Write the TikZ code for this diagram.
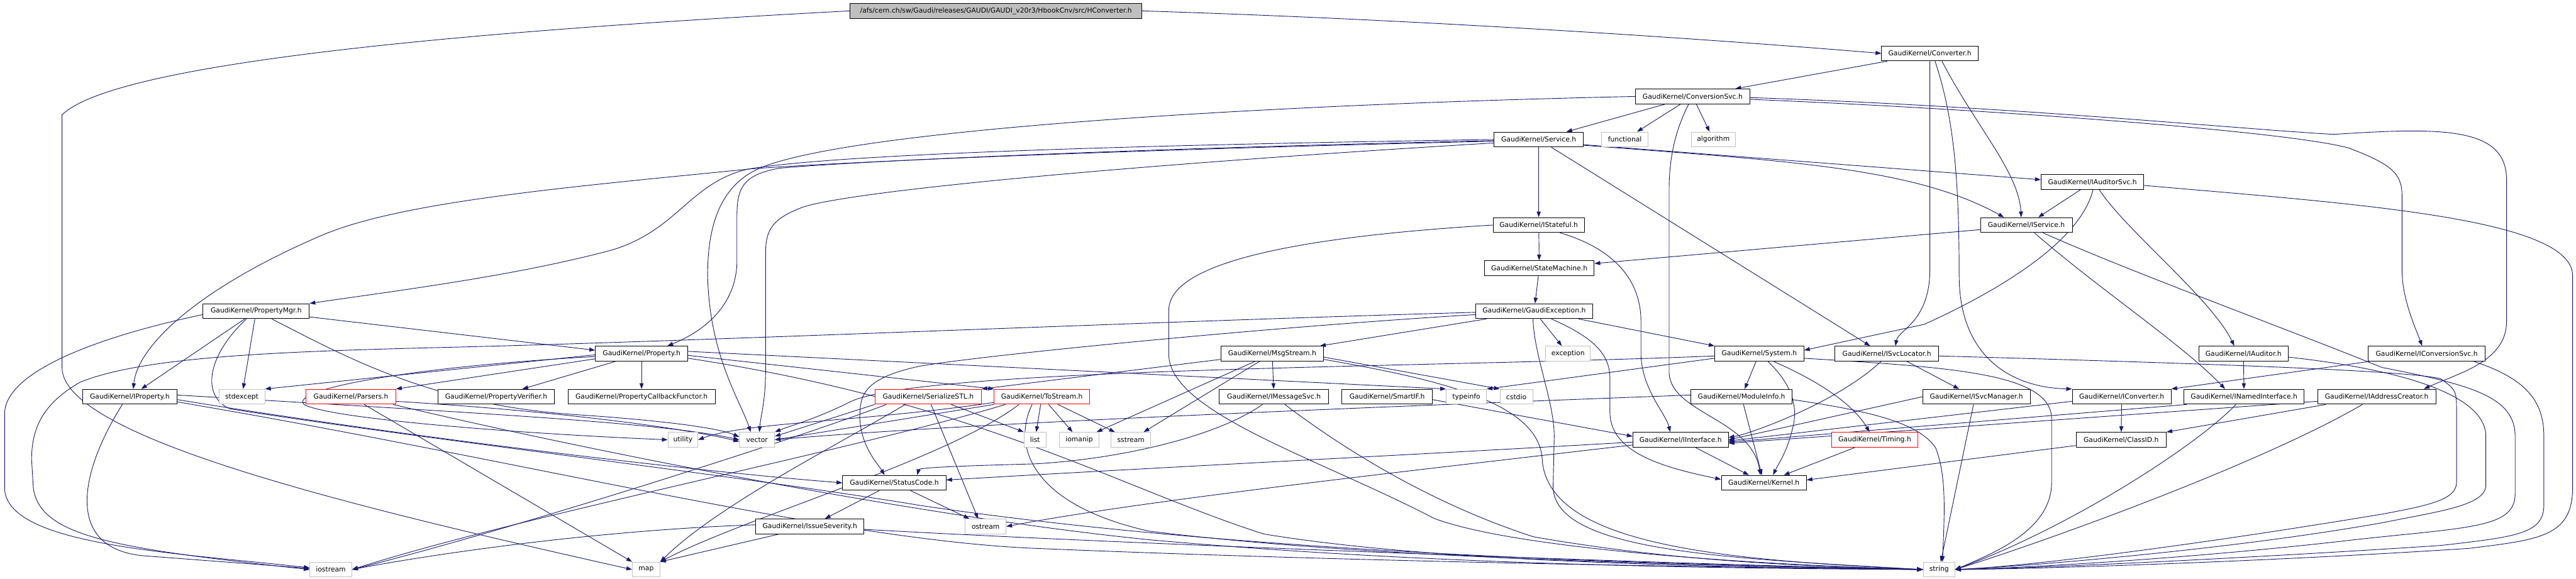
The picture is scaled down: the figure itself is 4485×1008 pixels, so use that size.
\documentclass[tikz,border=0pt]{standalone}
\usepackage{fontspec}
\newfontfamily\gk{DejaVu Sans}
\usetikzlibrary{arrows.meta,calc}
\definecolor{eb}{HTML}{191970}
\definecolor{rg}{HTML}{BFBFBF}
\pgfdeclarelayer{bg}
\pgfsetlayers{bg,main}
\begin{document}
\begin{tikzpicture}[x=1pt,y=-1pt,
  nd/.style={draw=black, line width=1pt, fill=white, minimum height=26pt, inner xsep=0pt, inner ysep=0pt, font={\gk\fontsize{11.8pt}{14pt}\selectfont}, text=black},
  sysh/.style={nd, draw=rg},
  trunc/.style={nd, draw=red},
  e/.style={draw=eb, line width=1pt, -{Triangle[length=10pt,width=7pt]}}]
\useasboundingbox (0,0) rectangle (4485,1008);
% nodes
\node[nd, fill=rg, minimum width=508pt] (root) at (1734,19) {/afs/cern.ch/sw/Gaudi/releases/GAUDI/GAUDI\_v20r3/HbookCnv/src/HConverter.h};
\node[nd, minimum width=168pt] (conv) at (3360,93) {GaudiKernel/Converter.h};
\node[nd, minimum width=199pt] (convsvc) at (2947,168) {GaudiKernel/ConversionSvc.h};
\node[nd, minimum width=155pt] (svc) at (2679,243) {GaudiKernel/Service.h};
\node[sysh, minimum width=81pt] (func) at (2829,243) {functional};
\node[sysh, minimum width=77pt] (algo) at (2983,243) {algorithm};
\node[nd, minimum width=179pt] (iaudsvc) at (3643,317) {GaudiKernel/IAuditorSvc.h};
\node[nd, minimum width=159pt] (istate) at (2679,392) {GaudiKernel/IStateful.h};
\node[nd, minimum width=160pt] (isvc) at (3528,392) {GaudiKernel/IService.h};
\node[nd, minimum width=191pt] (sm) at (2680,467) {GaudiKernel/StateMachine.h};
\node[nd, minimum width=185pt] (pmgr) at (446,542) {GaudiKernel/PropertyMgr.h};
\node[nd, minimum width=204pt] (gexc) at (2671,542) {GaudiKernel/GaudiException.h};
\node[nd, minimum width=161pt] (prop) at (1117,616) {GaudiKernel/Property.h};
\node[nd, minimum width=179pt] (msg) at (2215,616) {GaudiKernel/MsgStream.h};
\node[sysh, minimum width=78pt] (exc) at (2730,616) {exception};
\node[nd, minimum width=155pt] (sys) at (3063,616) {GaudiKernel/System.h};
\node[nd, minimum width=181pt] (isl) at (3285,616) {GaudiKernel/ISvcLocator.h};
\node[nd, minimum width=155pt] (iaud) at (3906,616) {GaudiKernel/IAuditor.h};
\node[nd, minimum width=203pt] (icsvc) at (4225,616) {GaudiKernel/IConversionSvc.h};
\node[nd, minimum width=164pt] (iprop) at (226,691) {GaudiKernel/IProperty.h};
\node[sysh, minimum width=80pt] (stdexc) at (421,691) {stdexcept};
\node[trunc, minimum width=156pt] (pars) at (611,691) {GaudiKernel/Parsers.h};
\node[nd, minimum width=202pt] (pver) at (864,691) {GaudiKernel/PropertyVerifier.h};
\node[nd, minimum width=256pt] (pcb) at (1117,691) {GaudiKernel/PropertyCallbackFunctor.h};
\node[trunc, minimum width=185pt] (ser) at (1616,691) {GaudiKernel/SerializeSTL.h};
\node[trunc, minimum width=166pt] (tos) at (1814,691) {GaudiKernel/ToStream.h};
\node[nd, minimum width=191pt] (imsg) at (2218,691) {GaudiKernel/IMessageSvc.h};
\node[nd, minimum width=157pt] (smart) at (2415,691) {GaudiKernel/SmartIF.h};
\node[sysh, minimum width=70pt] (tinfo) at (2553,691) {typeinfo};
\node[sysh, minimum width=57pt] (cstdio) at (2640,691) {cstdio};
\node[nd, minimum width=176pt] (modinfo) at (3032,691) {GaudiKernel/ModuleInfo.h};
\node[nd, minimum width=187pt] (isvm) at (3441,691) {GaudiKernel/ISvcManager.h};
\node[nd, minimum width=172pt] (iconv) at (3694,691) {GaudiKernel/IConverter.h};
\node[nd, minimum width=209pt] (inamed) at (3907,691) {GaudiKernel/INamedInterface.h};
\node[nd, minimum width=206pt] (iaddr) at (4138,691) {GaudiKernel/IAddressCreator.h};
\node[sysh, minimum width=52pt] (util) at (1189,766) {utility};
\node[sysh, minimum width=61pt] (vec) at (1318,766) {vector};
\node[sysh, minimum width=38pt] (list) at (1802,766) {list};
\node[sysh, minimum width=69pt] (iomanip) at (1879,766) {iomanip};
\node[sysh, minimum width=69pt] (sstream) at (1969,766) {sstream};
\node[nd, minimum width=166pt] (iint) at (2926,766) {GaudiKernel/IInterface.h};
\node[trunc, minimum width=150pt] (timing) at (3264,766) {GaudiKernel/Timing.h};
\node[nd, minimum width=157pt] (clid) at (3693,766) {GaudiKernel/ClassID.h};
\node[nd, minimum width=180pt] (sc) at (1557,841) {GaudiKernel/StatusCode.h};
\node[nd, minimum width=148pt] (kernel) at (3071,841) {GaudiKernel/Kernel.h};
\node[nd, minimum width=188pt] (isev) at (1410,917) {GaudiKernel/IssueSeverity.h};
\node[sysh, minimum width=71pt] (ostream) at (1716,917) {ostream};
\node[sysh, minimum width=73pt] (iostream) at (576,992) {iostream};
\node[sysh, minimum width=48pt] (map) at (1125,992) {map};
\node[sysh, minimum width=55pt] (string) at (3376,992) {string};
\begin{pgfonlayer}{bg}
\fill[white] (0,0) rectangle (4485,1008);
\draw[e] (root.east) .. controls (2500,35) and (3000,70) .. (conv.west);
\draw[e] (root.west) .. controls (800,55) and (200,110) .. (108,200) -- (108,640) .. controls (108,760) and (600,880) .. (map.west);
\draw[e] (conv) -- (convsvc);
\draw[e] ($(conv.south)+(21,0)$) .. controls (3440,220) and (3515,300) .. ($(isvc.north)+(-9,0)$);
\draw[e] (conv.south) -- (3360,470) .. controls (3360,560) and (3305,575) .. ($(isl.north)+(15,0)$);
\draw[e] ($(conv.south)+(9,0)$) .. controls (3400,200) and (3411,300) .. (3411,480) .. controls (3411,620) and (3500,675) .. (iconv.north west);
\draw[e] (convsvc) -- (svc);
\draw[e] (convsvc) -- (func);
\draw[e] (convsvc) -- (algo);
\draw[e] ($(convsvc.south)+(-7,0)$) .. controls (2915,230) and (2906,280) .. (2906,330) -- (2906,650) .. controls (2910,720) and (3050,730) .. ($(kernel.north)+(-6,0)$);
\draw[e] (convsvc.west) .. controls (2200,182) and (1500,225) .. (1330,290) .. controls (1250,320) and (1232,400) .. (1232,480) .. controls (1235,620) and (1290,700) .. ($(vec.north)+(-11,0)$);
\draw[e] ($(convsvc.east)+(0,2)$) .. controls (3500,185) and (3900,225) .. (4063,234) .. controls (4250,222) and (4364,220) .. (4364,313) -- (4364,560) .. controls (4364,630) and (4280,650) .. ($(iaddr.north)+(82,0)$);
\draw[e] ($(convsvc.east)+(0,5)$) .. controls (3500,192) and (3990,230) .. (4090,258) .. controls (4160,285) and (4182,300) .. (4182,340) -- (4182,470) .. controls (4182,520) and (4205,570) .. ($(icsvc.north)+(-8,0)$);
\draw[e] (svc) -- (istate);
\draw[e] ($(svc.south)+(22,0)$) -- ($(isl.north)+(-29,0)$);
\draw[e] ($(svc.east)+(0,10)$) .. controls (3100,280) and (3330,290) .. ($(isvc.north)+(-39,0)$);
\draw[e] ($(svc.east)+(0,9)$) -- ($(iaudsvc.west)+(0,-4)$);
\draw[e] (svc.west) .. controls (2000,252) and (1450,268) .. (1300,295) .. controls (1200,320) and (1180,400) .. (1067,435) .. controls (900,480) and (700,505) .. (pmgr.north east);
\draw[e] ($(svc.west)+(0,2)$) .. controls (2000,258) and (1500,280) .. (1357,293) .. controls (1290,305) and (1283,330) .. (1283,380) -- (1283,460) .. controls (1280,530) and (1230,575) .. ($(prop.north)+(45,0)$);
\draw[e] ($(svc.west)+(0,3)$) .. controls (2000,260) and (1500,280) .. (1309,294) .. controls (1000,325) and (700,350) .. (560,410) .. controls (350,500) and (240,600) .. ($(iprop.north)+(6,0)$);
\draw[e] ($(svc.west)+(0,6)$) .. controls (2000,285) and (1500,330) .. (1400,360) .. controls (1345,380) and (1333,400) .. (1333,440) -- (1333,640) .. controls (1333,700) and (1325,720) .. ($(vec.north)+(4,0)$);
\draw[e] (iaudsvc) -- (isvc);
\draw[e] ($(iaudsvc.south)+(1,0)$) .. controls (3620,430) and (3450,520) .. (3350,565) -- ($(sys.east)+(0,-6)$);
\draw[e] ($(iaudsvc.south)+(12,0)$) .. controls (3700,400) and (3850,520) .. ($(iaud.north)+(-16,0)$);
\draw[e] ($(iaudsvc.east)+(0,6)$) .. controls (4100,355) and (4479,380) .. (4479,480) -- (4479,850) .. controls (4479,935) and (4420,940) .. (4300,955) .. controls (4000,975) and (3600,990) .. (string.east);
\draw[e] ($(isvc.west)+(0,8)$) -- ($(sm.east)+(0,-8)$);
\draw[e] ($(isvc.south)+(14,0)$) .. controls (3650,500) and (3800,600) .. ($(inamed.north)+(-33,0)$);
\draw[e] ($(isvc.south)+(29,0)$) .. controls (3700,470) and (4000,580) .. (4147,640) .. controls (4300,670) and (4379,690) .. (4379,760) -- (4379,860) .. controls (4379,920) and (4300,918) .. (4100,940) .. controls (3800,975) and (3500,990) .. (string.east);
\draw[e] (iaud) -- (inamed);
\draw[e] ($(iaud.east)+(0,6)$) .. controls (4150,640) and (4328,680) .. (4328,760) -- (4328,845) .. controls (4328,880) and (4250,890) .. (4150,910) .. controls (3900,955) and (3550,985) .. (string.east);
\draw[e] ($(isl.east)+(0,4)$) .. controls (3800,632) and (4200,645) .. (4250,660) .. controls (4277,680) .. (4277,720) -- (4277,840) .. controls (4277,870) and (4230,880) .. (4150,895) .. controls (3850,945) and (3550,985) .. (string.east);
\draw[e] ($(icsvc.south)+(82,0)$) .. controls (4400,660) and (4429,700) .. (4429,760) -- (4429,880) .. controls (4429,930) and (4380,935) .. (4250,950) .. controls (3950,970) and (3550,990) .. (string.east);
\draw[e] ($(icsvc.south west)+(3,0)$) -- (iconv.north east);
\draw[e] (istate) -- (sm);
\draw[e] ($(istate.south)+(37,0)$) .. controls (2800,430) and (2857,480) .. (2857,560) -- (2857,620) .. controls (2860,680) and (2900,720) .. ($(iint.north)+(-18,0)$);
\draw[e] (istate.west) .. controls (2300,410) and (2035,450) .. (2035,540) -- (2035,620) .. controls (2040,720) and (2300,800) .. (2497,903) .. controls (2650,960) and (3100,985) .. (string.west);
\draw[e] (sm) -- (gexc);
\draw[e] (gexc) -- (msg);
\draw[e] (gexc) -- (exc);
\draw[e] ($(gexc.south east)+(-25,0)$) -- (sys.north west);
\draw[e] ($(gexc.south)+(30,0)$) .. controls (2780,590) and (2803,620) .. (2803,660) -- (2803,720) .. controls (2805,790) and (2900,815) .. ($(kernel.west)+(0,-6)$);
\draw[e] ($(gexc.south)+(-2,0)$) .. controls (2671,620) and (2706,700) .. (2706,760) -- (2704,850) .. controls (2710,960) and (3000,972) .. (string.west);
\draw[e] ($(gexc.west)+(0,6)$) .. controls (2200,570) and (1700,620) .. (1600,638) .. controls (1500,660) and (1497,690) .. (1497,730) .. controls (1500,780) and (1530,810) .. ($(sc.north)+(-17,0)$);
\draw[e] ($(gexc.west)+(0,2)$) .. controls (2000,560) and (1200,595) .. (777,605) .. controls (500,612) and (250,620) .. (139,666) .. controls (80,700) and (55,740) .. (55,800) -- (58,850) .. controls (70,935) and (200,955) .. (iostream.west);
\draw[e] (msg) -- (imsg);
\draw[e] ($(msg.east)+(0,6)$) -- (cstdio.north west);
\draw[e] (msg) -- (iomanip);
\draw[e] (msg) -- (sstream);
\draw[e] ($(msg.west)+(0,10)$) -- (ser.north east);
\draw[e] ($(msg.east)+(0,10)$) .. controls (2500,660) and (2680,700) .. (2685,800) .. controls (2695,950) and (3000,975) .. (string.west);
\draw[e] ($(imsg.south)+(-20,0)$) .. controls (2120,760) and (1950,800) .. (1800,808) .. controls (1650,812) and (1600,815) .. ($(sc.north)+(40,0)$);
\draw[e] ($(imsg.south)+(19,0)$) .. controls (2350,790) and (2500,880) .. (2670,935) .. controls (2900,975) and (3100,985) .. (string.west);
\draw[e] ($(smart.east)+(0,5)$) -- ($(iint.west)+(0,-6)$);
\draw[e] (sys) -- (modinfo);
\draw[e] ($(sys.south)+(15,0)$) .. controls (3110,660) and (3135,700) .. (3120,750) .. controls (3110,790) and (3095,810) .. ($(kernel.north)+(16,0)$);
\draw[e] ($(sys.south)+(25,0)$) .. controls (3180,670) and (3230,710) .. ($(timing.north)+(-9,0)$);
\draw[e] ($(sys.west)+(0,8)$) -- (tinfo.north east);
\draw[e] ($(sys.west)+(0,4)$) .. controls (2500,640) and (1600,640) .. (1480,700) .. controls (1420,730) and (1380,740) .. (vec.north east);
\draw[e] ($(sys.east)+(0,8)$) .. controls (3400,640) and (3572,650) .. (3572,730) -- (3572,840) .. controls (3572,920) and (3480,960) .. (string.east);
\draw[e] (modinfo) -- (kernel);
\draw[e] ($(modinfo.east)+(0,5)$) .. controls (3250,715) and (3340,735) .. (3370,780) .. controls (3390,830) and (3385,900) .. ($(string.north)+(6,0)$);
\draw[e] ($(modinfo.west)+(0,-3)$) .. controls (2500,705) and (1700,735) .. (vec.east);
\draw[e] ($(isl.south)+(-10,0)$) .. controls (3200,700) and (3050,755) .. ($(iint.east)+(0,-4)$);
\draw[e] ($(isl.south)+(35,0)$) -- ($(isvm.north)+(-30,0)$);
\draw[e] (isvm.west) -- (iint.east);
\draw[e] ($(isvm.south)+(-5,0)$) -- ($(string.north)+(3,0)$);
\draw[e] (iconv) -- (clid);
\draw[e] ($(iconv.west)+(0,8)$) -- ($(iint.east)+(0,2)$);
\draw[e] ($(inamed.south west)+(5,0)$) -- ($(iint.east)+(0,4)$);
\draw[e] ($(inamed.south)+(-14,0)$) .. controls (3820,780) and (3600,920) .. (string.east);
\draw[e] ($(iaddr.south west)+(15,0)$) -- (clid.north east);
\draw[e] ($(iaddr.west)+(0,8)$) -- ($(iint.east)+(0,6)$);
\draw[e] ($(iaddr.south)+(-25,0)$) .. controls (3950,800) and (3600,930) .. (string.east);
\draw[e] ($(clid.west)+(0,10)$) -- ($(kernel.east)+(0,-5)$);
\draw[e] (timing) -- (kernel);
\draw[e] (iint) -- (kernel);
\draw[e] ($(iint.west)+(0,4)$) .. controls (2500,790) and (2000,815) .. ($(sc.east)+(0,-5)$);
\draw[e] ($(iint.west)+(0,9)$) .. controls (2500,815) and (2000,870) .. (ostream.east);
\draw[e] (sc) -- (isev);
\draw[e] (sc) -- (ostream);
\draw[e] ($(isev.south west)+(40,0)$) -- (map.north east);
\draw[e] ($(isev.west)+(0,-3)$) .. controls (1000,925) and (700,975) .. (iostream.east);
\draw[e] ($(isev.east)+(0,5)$) .. controls (2000,950) and (3000,985) .. (string.west);
\draw[e] (pmgr) -- (iprop);
\draw[e] (pmgr) -- (stdexc);
\draw[e] ($(pmgr.east)+(0,10)$) -- ($(prop.west)+(0,-6)$);
\draw[e] ($(pmgr.west)+(0,6)$) .. controls (200,580) and (10,640) .. (8,720) -- (8,850) .. controls (10,950) and (300,962) .. ($(iostream.west)+(0,-3)$);
\draw[e] ($(pmgr.south)+(27,0)$) .. controls (600,620) and (750,705) .. (1000,722) .. controls (1150,732) and (1250,745) .. ($(vec.west)+(0,-5)$);
\draw[e] ($(pmgr.south)+(-17,0)$) .. controls (360,620) and (350,690) .. (400,712) .. controls (700,760) and (1300,830) .. (1600,880) .. controls (2200,970) and (3000,985) .. (string.west);
\draw[e] ($(prop.west)+(0,2)$) -- (stdexc.north east);
\draw[e] ($(prop.west)+(0,9)$) -- (pars.north east);
\draw[e] (prop) -- (pver);
\draw[e] (prop) -- (pcb);
\draw[e] ($(prop.east)+(0,3)$) -- (tos.north west);
\draw[e] ($(prop.east)+(0,-4)$) -- (tinfo.north west);
\draw[e] ($(prop.west)+(0,5)$) .. controls (700,640) and (500,680) .. (530,705) .. controls (580,730) and (900,755) .. (util.west);
\draw[e] ($(prop.east)+(0,8)$) .. controls (1700,700) and (1950,850) .. (2200,930) .. controls (2500,980) and (3000,988) .. (string.west);
\draw[e] ($(iprop.south)+(-13,0)$) .. controls (140,820) and (110,955) .. (250,968) -- ($(iostream.west)+(0,-2)$);
\draw[e] ($(iprop.east)+(0,-3)$) .. controls (800,718) and (1150,735) .. (vec.west);
\draw[e] ($(iprop.east)+(0,5)$) .. controls (700,760) and (1200,820) .. (sc.west);
\draw[e] ($(iprop.east)+(0,9)$) .. controls (900,800) and (1450,940) .. (1800,955) .. controls (2400,980) and (3000,988) .. (string.west);
\draw[e] ($(pars.south)+(23,0)$) -- (map.north west);
\draw[e] ($(pars.east)+(0,8)$) .. controls (1000,718) and (1200,748) .. ($(vec.west)+(0,3)$);
\draw[e] ($(pars.south east)+(-5,0)$) .. controls (1000,780) and (1600,900) .. (2000,940) .. controls (2500,985) and (3000,990) .. (string.west);
\draw[e] (ser.south west) -- ($(vec.east)+(0,-6)$);
\draw[e] ($(ser.south)+(40,0)$) -- (list.north west);
\draw[e] ($(ser.south)+(5,0)$) -- ($(ostream.north)+(-13,0)$);
\draw[e] ($(ser.south)+(-40,0)$) .. controls (1450,780) and (1250,880) .. (map.north east);
\draw[e] ($(ser.south west)+(20,0)$) .. controls (1400,760) and (900,920) .. (iostream.east);
\draw[e] (tos.south west) -- (vec.east);
\draw[e] (tos) -- (list);
\draw[e] (tos) -- (iomanip);
\draw[e] (tos) -- (sstream);
\draw[e] ($(tos.south)+(-40,0)$) .. controls (1650,800) and (1300,900) .. (map.north east);
\draw[e] ($(tos.south)+(-17,0)$) .. controls (1760,780) and (1800,880) .. (2000,925) .. controls (2400,975) and (3000,985) .. (string.west);
\draw[e] ($(tos.south west)+(20,0)$) .. controls (1500,780) and (900,900) .. (iostream.east);
\draw[e] ($(tos.west)+(0,10)$) .. controls (1500,735) and (1300,735) .. (util.east);
\end{pgfonlayer}
\end{tikzpicture}
\end{document}
